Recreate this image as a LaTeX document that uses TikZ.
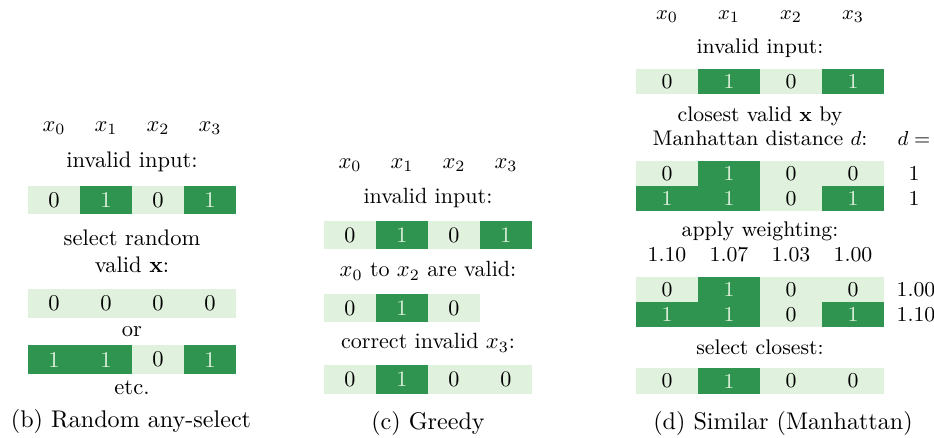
\documentclass[tikz,border=0pt]{standalone}
\usepackage{amsmath}

\definecolor{darkgreen}{RGB}{46,148,80}
\definecolor{lightgreen}{RGB}{224,241,221}

\tikzset{
  cell/.style={inner sep=0pt, minimum width=8.15mm, minimum height=4.45mm},
  zero/.style={cell, fill=lightgreen, text=black},
  one/.style={cell, fill=darkgreen, text=lightgreen},
  wide/.style={minimum width=9.72mm, minimum height=3.98mm},
  caption/.style={font=\fontsize{10.7}{13}\selectfont},
}

\begin{document}
\begin{tikzpicture}[x=0.156mm, y=-0.156mm]
\useasboundingbox (0,0) rectangle (934,437);

% (b) random any-select
\begin{scope}[every node/.append style={font=\fontsize{10}{12}\selectfont}]
\node (bx0) at (54,128) {$x_0$};
\node (bx1) at (106,128) {$x_1$};
\node (bx2) at (158,128) {$x_2$};
\node (bx3) at (210,128) {$x_3$};
\node (binvalid) at (132,162) {invalid input:};
\node[zero] (b00) at (54,200) {0};
\node[one]  (b01) at (106,200) {1};
\node[zero] (b02) at (158,200) {0};
\node[one]  (b03) at (210,200) {1};
\node[align=center] (bselect) at (132,251.5) {select random\\valid $\mathbf{x}$:};
\node[zero] (b10) at (54,303.5) {0};
\node[zero] (b11) at (106,303.5) {0};
\node[zero] (b12) at (158,303.5) {0};
\node[zero] (b13) at (210,303.5) {0};
\node (bor) at (132,332) {or};
\node[one]  (b20) at (54,359.5) {1};
\node[one]  (b21) at (106,359.5) {1};
\node[zero] (b22) at (158,359.5) {0};
\node[one]  (b23) at (210,359.5) {1};
\node (betc) at (132,388) {etc.};
\end{scope}
\node[caption] (bcap) at (131,421) {(b) Random any-select};

% (c) greedy
\begin{scope}[every node/.append style={font=\fontsize{9.8}{11.8}\selectfont}]
\node (cx0) at (350,165) {$x_0$};
\node (cx1) at (402,165) {$x_1$};
\node (cx2) at (454,165) {$x_2$};
\node (cx3) at (506,165) {$x_3$};
\node (cinvalid) at (428,198) {invalid input:};
\node[zero] (c00) at (350,235) {0};
\node[one]  (c01) at (402,235) {1};
\node[zero] (c02) at (454,235) {0};
\node[one]  (c03) at (506,235) {1};
\node (cvalid) at (428,271) {$x_0$ to $x_2$ are valid:};
\node[zero] (c10) at (350,308) {0};
\node[one]  (c11) at (402,308) {1};
\node[zero] (c12) at (454,308) {0};
\node (ccorrect) at (428,343) {correct invalid $x_3$:};
\node[zero] (c20) at (350,379.5) {0};
\node[one]  (c21) at (402,379.5) {1};
\node[zero] (c22) at (454,379.5) {0};
\node[zero] (c23) at (506,379.5) {0};
\end{scope}
\node[caption] (ccap) at (428,423) {(c) Greedy};

% (d) similar, Manhattan distance
\begin{scope}[every node/.append style={font=\fontsize{9.4}{10.8}\selectfont}]
\node (dx0) at (667,17) {$x_0$};
\node (dx1) at (729,17) {$x_1$};
\node (dx2) at (791,17) {$x_2$};
\node (dx3) at (853,17) {$x_3$};
\node (dinvalid) at (760,48) {invalid input:};
\node[zero,wide] (d00) at (667,81.5) {0};
\node[one,wide]  (d01) at (729,81.5) {1};
\node[zero,wide] (d02) at (791,81.5) {0};
\node[one,wide]  (d03) at (853,81.5) {1};
\node[align=center] (dclosest) at (760,126) {closest valid $\mathbf{x}$ by\\Manhattan distance $d$:};
\node (ddist) at (914,138) {$d =$};
\node[zero,wide] (d10) at (667,173.5) {0};
\node[one,wide]  (d11) at (729,173.5) {1};
\node[zero,wide] (d12) at (791,173.5) {0};
\node[zero,wide] (d13) at (853,173.5) {0};
\node (dd1) at (914,173.5) {1};
\node[one,wide]  (d20) at (667,198.5) {1};
\node[one,wide]  (d21) at (729,198.5) {1};
\node[zero,wide] (d22) at (791,198.5) {0};
\node[one,wide]  (d23) at (853,198.5) {1};
\node (dd2) at (914,198.5) {1};
\node (dapply) at (760,231) {apply weighting:};
\node (dw0) at (667,255) {1.10};
\node (dw1) at (729,255) {1.07};
\node (dw2) at (791,255) {1.03};
\node (dw3) at (853,255) {1.00};
\node[zero,wide] (d30) at (667,289.5) {0};
\node[one,wide]  (d31) at (729,289.5) {1};
\node[zero,wide] (d32) at (791,289.5) {0};
\node[zero,wide] (d33) at (853,289.5) {0};
\node (dw4) at (916,289.5) {1.00};
\node[one,wide]  (d40) at (667,314.5) {1};
\node[one,wide]  (d41) at (729,314.5) {1};
\node[zero,wide] (d42) at (791,314.5) {0};
\node[one,wide]  (d43) at (853,314.5) {1};
\node (dw5) at (916,314.5) {1.10};
\node (dselect) at (760,347) {select closest:};
\node[zero,wide] (d50) at (667,381) {0};
\node[one,wide]  (d51) at (729,381) {1};
\node[zero,wide] (d52) at (791,381) {0};
\node[zero,wide] (d53) at (853,381) {0};
\end{scope}
\node[caption] (dcap) at (783,423) {(d) Similar (Manhattan)};
\end{tikzpicture}
\end{document}
